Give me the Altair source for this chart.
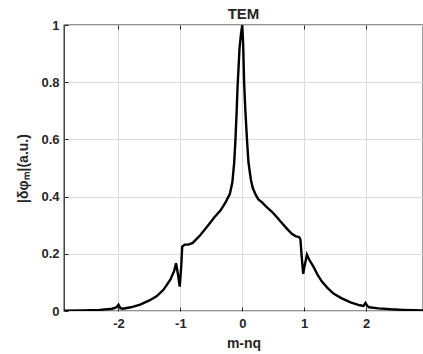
import altair as alt
import pandas as pd

x_vals = [-2.88, -2.6, -2.3, -2.1, -2.03, -2.0, -1.97, -1.93, -1.8, -1.65, -1.5, -1.38,
          -1.27, -1.16, -1.1, -1.07, -1.04, -1.01, -0.985, -0.97, -0.93, -0.87, -0.8,
          -0.68, -0.55, -0.45, -0.35, -0.27, -0.2, -0.16, -0.13, -0.11, -0.09, -0.076,
          -0.06, -0.044, -0.02, 0.0, 0.015, 0.03, 0.05, 0.076, 0.1, 0.14, 0.17, 0.22,
          0.26, 0.32, 0.4, 0.48, 0.56, 0.64, 0.72, 0.8, 0.86, 0.92, 0.94, 0.96, 0.985,
          1.0, 1.045, 1.08, 1.15, 1.22, 1.29, 1.38, 1.48, 1.6, 1.75, 1.9, 1.96, 1.99,
          2.02, 2.05, 2.2, 2.4, 2.6, 2.92]
y_vals = [0.001, 0.002, 0.004, 0.008, 0.013, 0.022, 0.01, 0.008, 0.013, 0.022, 0.037, 0.052,
          0.075, 0.11, 0.14, 0.167, 0.13, 0.085, 0.16, 0.225, 0.232, 0.232, 0.238,
          0.265, 0.3, 0.328, 0.352, 0.38, 0.41, 0.45, 0.52, 0.6, 0.7, 0.784,
          0.85, 0.92, 0.97, 1.0, 0.93, 0.8, 0.7, 0.6, 0.52, 0.458, 0.43, 0.405,
          0.39, 0.38, 0.362, 0.347, 0.328, 0.308, 0.288, 0.27, 0.262, 0.258, 0.25, 0.19, 0.13,
          0.15, 0.197, 0.18, 0.155, 0.125, 0.102, 0.08, 0.06, 0.045, 0.03, 0.02, 0.018, 0.028,
          0.018, 0.013, 0.009, 0.006, 0.004, 0.002]

x_ticks = [-2, -1, 0, 1, 2]
y_ticks = [0, 0.2, 0.4, 0.6, 0.8, 1]

df = pd.DataFrame({"x": x_vals, "y": y_vals})

FONT = "Liberation Sans"
DARK = "#262626"

xs = alt.Scale(domain=[-2.88, 2.92], nice=False, zero=False)
ys = alt.Scale(domain=[0, 1], nice=False, zero=False)

common = dict(tickColor=DARK, labelColor=DARK, titleColor=DARK,
              labelFont=FONT, titleFont=FONT, labelFontSize=13,
              titleFontSize=14, labelFontWeight="bold", titleFontWeight="bold",
              gridColor="#dcdcdc", gridWidth=1)

line = alt.Chart(df).mark_line(color="black", strokeWidth=2.4, clip=True).encode(
    x=alt.X("x:Q", scale=xs,
            axis=alt.Axis(orient="bottom", values=x_ticks, title="m-nq",
                          labelExpr="'' + datum.value", offset=-4, tickSize=4,
                          domain=False, labelPadding=6, titlePadding=6,
                          grid=True, **common)),
    y=alt.Y("y:Q", scale=ys,
            axis=alt.Axis(orient="left", values=y_ticks, title="|δφₘ|(a.u.)",
                          labelExpr="'' + datum.value", offset=-4, tickSize=4,
                          domain=False, labelPadding=5, titlePadding=10,
                          grid=True, **common)),
)

top = alt.Chart(df).mark_line(opacity=0).encode(
    x=alt.X("x:Q", scale=xs,
            axis=alt.Axis(orient="top", values=x_ticks, title=None, labels=False,
                          offset=-4, tickSize=4, domain=False, grid=False,
                          tickColor=DARK)),
    y=alt.Y("y:Q", scale=ys),
)

chart = alt.layer(line, top).resolve_axis(x="independent").properties(
    width=359, height=286,
    autosize=alt.AutoSizeParams(type="none"),
    padding={"left": 64, "top": 25, "right": 0, "bottom": 43},
    title=alt.TitleParams("TEM", font=FONT, fontSize=15, fontWeight="bold",
                          color=DARK, offset=-3, anchor="middle"),
).configure(background="white").configure_view(stroke=DARK, strokeWidth=1.3)

chart.save("out.html", embed_options={"renderer": "svg", "actions": False})
